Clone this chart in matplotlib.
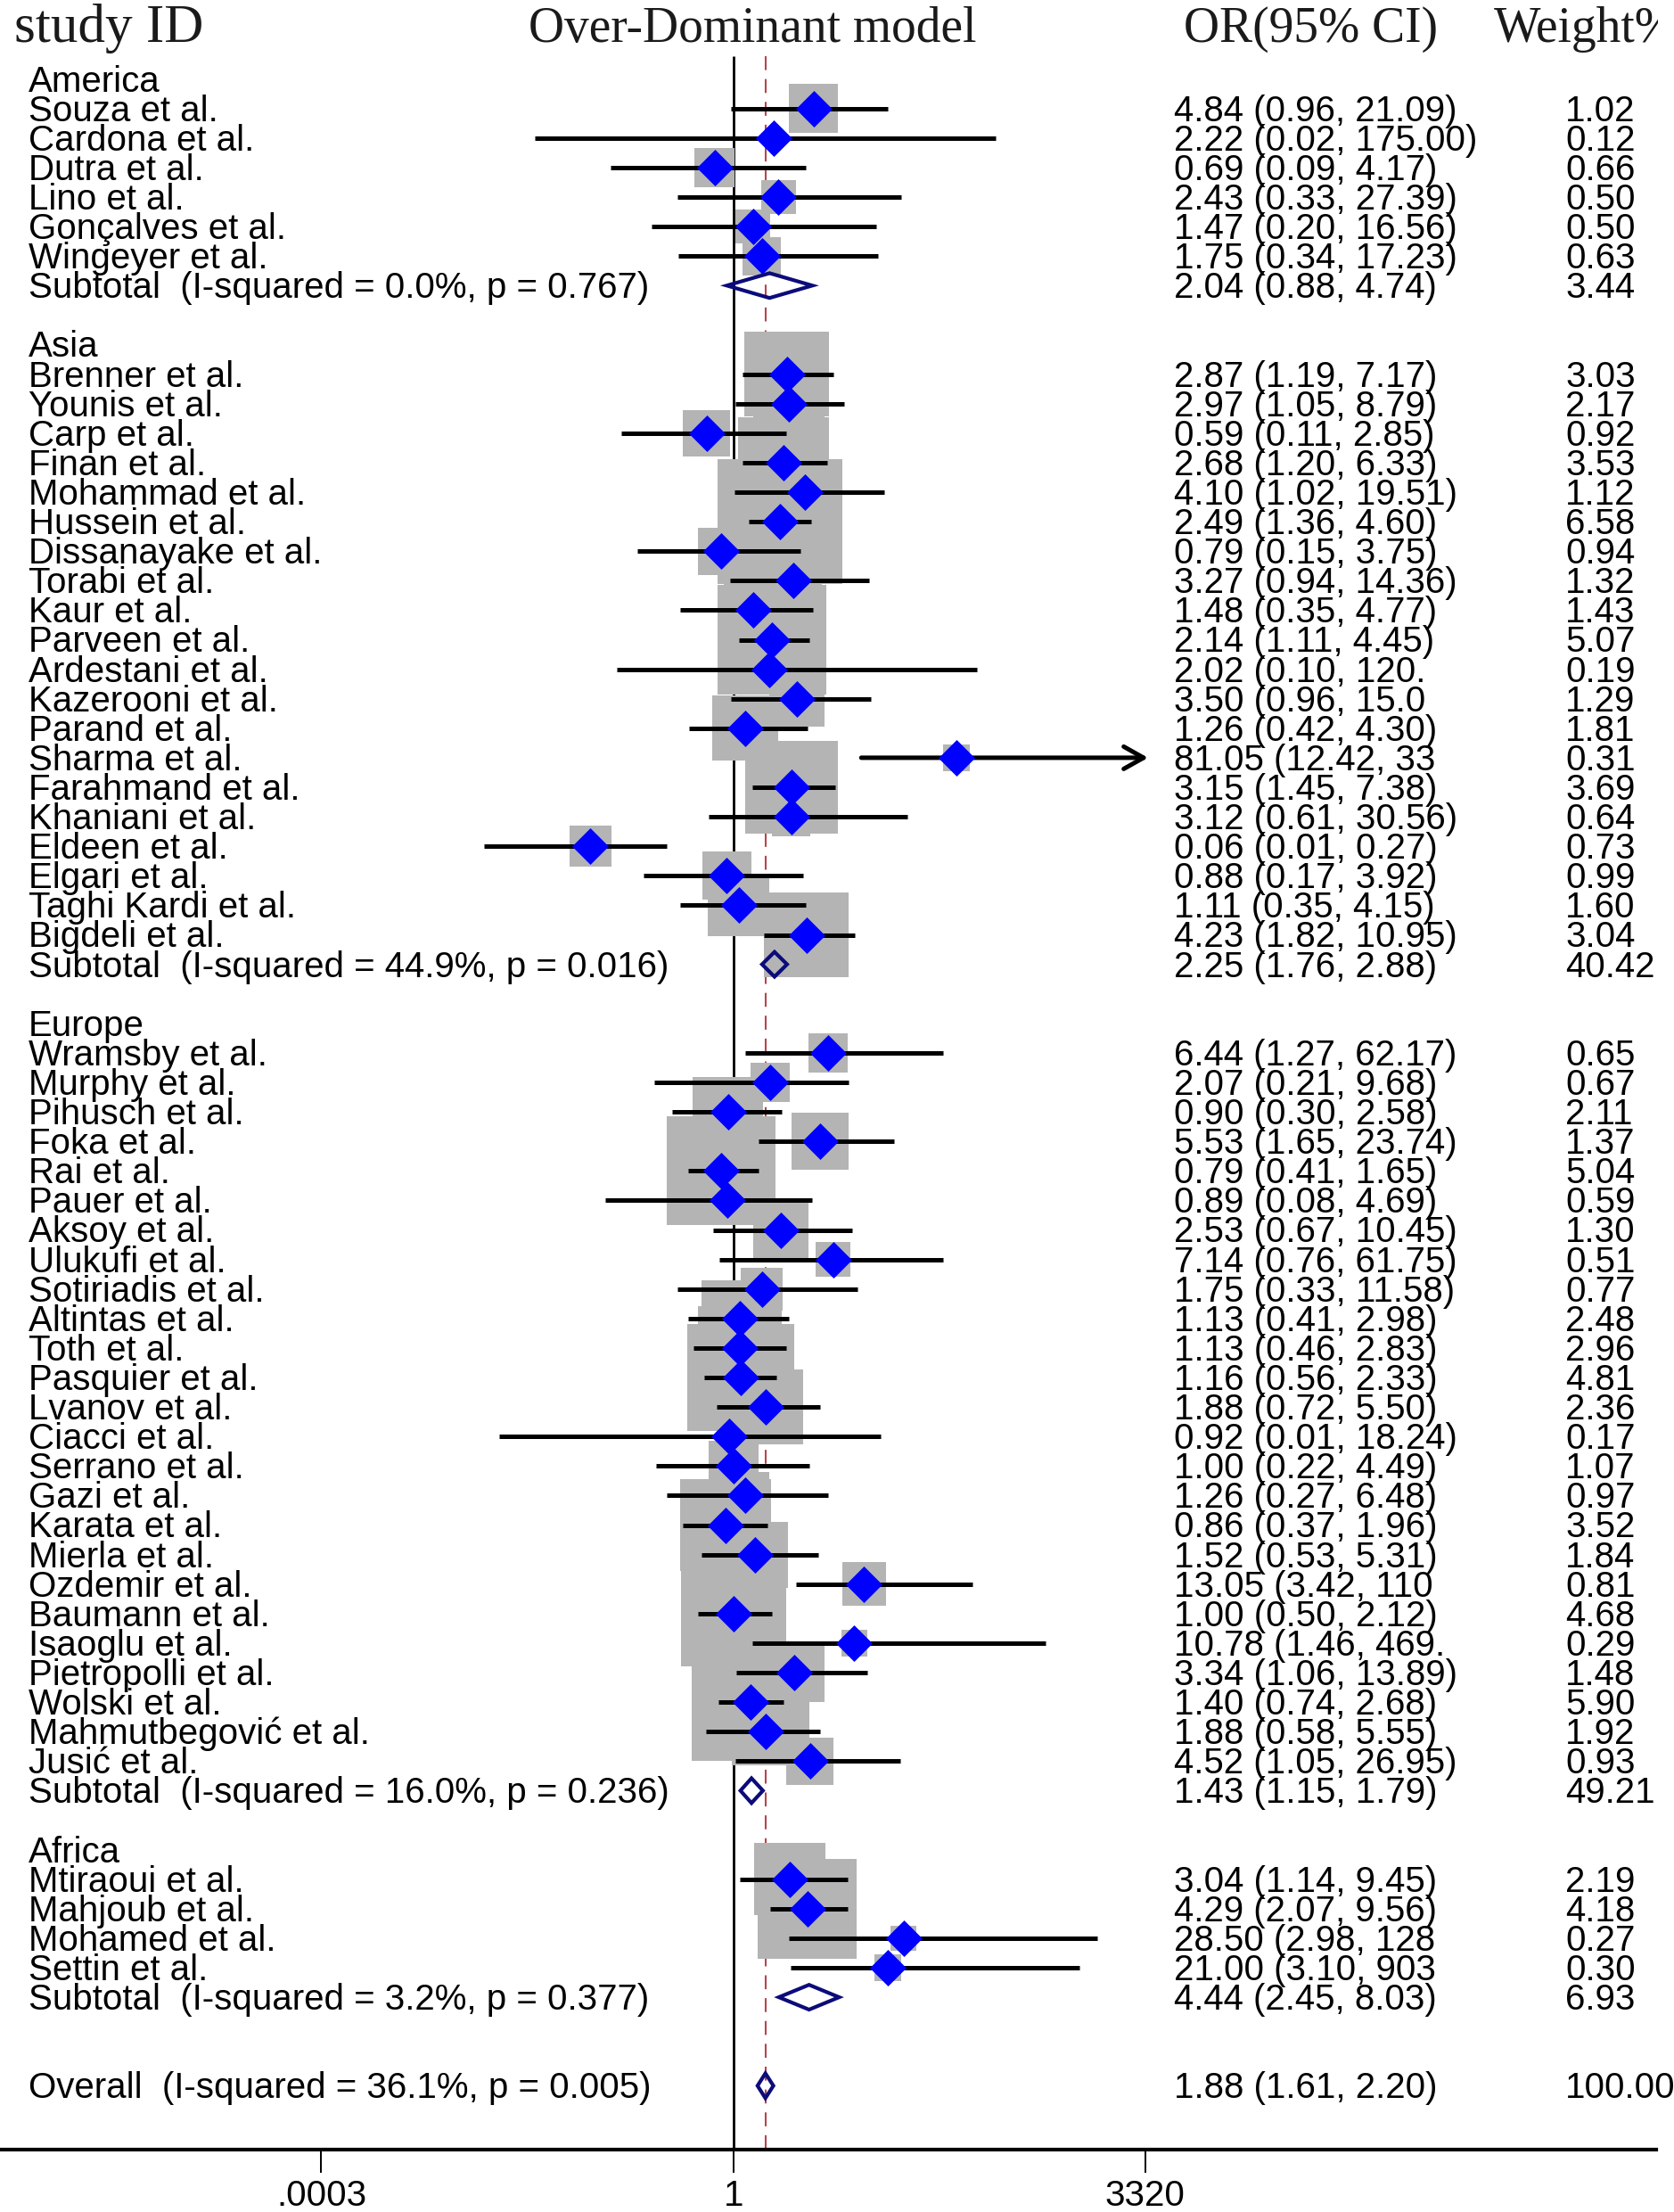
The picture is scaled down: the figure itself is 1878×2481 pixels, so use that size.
import numpy as np
import matplotlib
matplotlib.use("Agg")
import matplotlib.pyplot as plt
from matplotlib.path import Path
from matplotlib.ticker import NullLocator
from matplotlib.transforms import Bbox

# ---------------- data ----------------
group_names = ["America", "Asia", "Europe", "Africa"]

america_names = ["Souza et al.", "Cardona et al.", "Dutra et al.", "Lino et al.",
                 "Gonçalves et al.", "Wingeyer et al."]
america_or = [4.84, 2.22, 0.69, 2.43, 1.47, 1.75]
america_lo = [0.96, 0.02, 0.09, 0.33, 0.20, 0.34]
america_hi = [21.09, 175.00, 4.17, 27.39, 16.56, 17.23]
america_wt = [1.02, 0.12, 0.66, 0.50, 0.50, 0.63]

asia_names = ["Brenner et al.", "Younis et al.", "Carp et al.", "Finan et al.",
              "Mohammad et al.", "Hussein et al.", "Dissanayake et al.", "Torabi et al.",
              "Kaur et al.", "Parveen et al.", "Ardestani et al.", "Kazerooni et al.",
              "Parand et al.", "Sharma et al.", "Farahmand et al.", "Khaniani et al.",
              "Eldeen et al.", "Elgari et al.", "Taghi Kardi et al.", "Bigdeli et al."]
asia_or = [2.87, 2.97, 0.59, 2.68, 4.10, 2.49, 0.79, 3.27, 1.48, 2.14,
           2.02, 3.50, 1.26, 81.05, 3.15, 3.12, 0.06, 0.88, 1.11, 4.23]
asia_lo = [1.19, 1.05, 0.11, 1.20, 1.02, 1.36, 0.15, 0.94, 0.35, 1.11,
           0.10, 0.96, 0.42, 12.42, 1.45, 0.61, 0.0074, 0.17, 0.35, 1.82]
asia_hi = [7.17, 8.79, 2.85, 6.33, 19.51, 4.60, 3.75, 14.36, 4.77, 4.45,
           120.50, 15.04, 4.30, 3350.00, 7.38, 30.56, 0.27, 3.92, 4.15, 10.95]
asia_wt = [3.03, 2.17, 0.92, 3.53, 1.12, 6.58, 0.94, 1.32, 1.43, 5.07,
           0.19, 1.29, 1.81, 0.31, 3.69, 0.64, 0.73, 0.99, 1.60, 3.04]

europe_names = ["Wramsby et al.", "Murphy et al.", "Pihusch et al.", "Foka et al.",
                "Rai et al.", "Pauer et al.", "Aksoy et al.", "Ulukufi et al.",
                "Sotiriadis et al.", "Altintas et al.", "Toth et al.", "Pasquier et al.",
                "Lvanov et al.", "Ciacci et al.", "Serrano et al.", "Gazi et al.",
                "Karata et al.", "Mierla et al.", "Ozdemir et al.", "Baumann et al.",
                "Isaoglu et al.", "Pietropolli et al.", "Wolski et al.",
                "Mahmutbegović et al.", "Jusić et al."]
europe_or = [6.44, 2.07, 0.90, 5.53, 0.79, 0.89, 2.53, 7.14, 1.75, 1.13, 1.13, 1.16,
             1.88, 0.92, 1.00, 1.26, 0.86, 1.52, 13.05, 1.00, 10.78, 3.34, 1.40, 1.88, 4.52]
europe_lo = [1.27, 0.21, 0.30, 1.65, 0.41, 0.08, 0.67, 0.76, 0.33, 0.41, 0.46, 0.56,
             0.72, 0.01, 0.22, 0.27, 0.37, 0.53, 3.42, 0.50, 1.46, 1.06, 0.74, 0.58, 1.05]
europe_hi = [62.17, 9.68, 2.58, 23.74, 1.65, 4.69, 10.45, 61.75, 11.58, 2.98, 2.83, 2.33,
             5.50, 18.24, 4.49, 6.48, 1.96, 5.31, 110.80, 2.12, 469.20, 13.89, 2.68, 5.55, 26.95]
europe_wt = [0.65, 0.67, 2.11, 1.37, 5.04, 0.59, 1.30, 0.51, 0.77, 2.48, 2.96, 4.81,
             2.36, 0.17, 1.07, 0.97, 3.52, 1.84, 0.81, 4.68, 0.29, 1.48, 5.90, 1.92, 0.93]

africa_names = ["Mtiraoui et al.", "Mahjoub et al.", "Mohamed et al.", "Settin et al."]
africa_or = [3.04, 4.29, 28.50, 21.00]
africa_lo = [1.14, 2.07, 2.98, 3.10]
africa_hi = [9.45, 9.56, 1285.00, 903.40]
africa_wt = [2.19, 4.18, 0.27, 0.30]

# CI labels truncated in the original (number of characters shown)
ci_cut = {"Ardestani et al.": 16, "Kazerooni et al.": 16, "Sharma et al.": 16,
          "Ozdemir et al.": 16, "Isaoglu et al.": 17, "Mohamed et al.": 16,
          "Settin et al.": 16}

sub_or = [2.04, 2.25, 1.43, 4.44]
sub_lo = [0.88, 1.76, 1.15, 2.45]
sub_hi = [4.74, 2.88, 1.79, 8.03]
sub_wt = [3.44, 40.42, 49.21, 6.93]
sub_i2 = ["0.0", "44.9", "16.0", "3.2"]
sub_p = ["0.767", "0.016", "0.236", "0.377"]

overall_or, overall_lo, overall_hi, overall_wt = 1.88, 1.61, 2.20, 100.00
overall_i2, overall_p = "36.1", "0.005"

xtick_vals = [0.0003, 1, 3320]
xtick_labels = [".0003", "1", "3320"]

# ---------------- layout ----------------
FIG_W, FIG_H, DPI = 1878, 2481, 100
PX1, PPD = 822.7, 131.2          # pixel of OR=1, pixels per decade
ROW0, PITCH = 88.6, 33.1          # pixel of first row, row pitch
AX_BOTTOM = 2411

SANS = ["Liberation Sans", "DejaVu Sans"]
SERIF = ["Liberation Serif", "DejaVu Serif"]
FS = 29

fig = plt.figure(figsize=(FIG_W / DPI, FIG_H / DPI), dpi=DPI)
ax = fig.add_axes([0, (FIG_H - AX_BOTTOM) / FIG_H, 1, AX_BOTTOM / FIG_H])
ax.set_xscale("log")
ax.set_xlim(10 ** (-PX1 / PPD), 10 ** ((FIG_W - PX1) / PPD))
ymax = (AX_BOTTOM - ROW0) / PITCH
ax.set_ylim(ymax, -ROW0 / PITCH)

groups = [
    (america_names, america_or, america_lo, america_hi, america_wt),
    (asia_names, asia_or, asia_lo, asia_hi, asia_wt),
    (europe_names, europe_or, europe_lo, europe_hi, europe_wt),
    (africa_names, africa_or, africa_lo, africa_hi, africa_wt),
]

trans = ax.get_yaxis_transform()
BASE = 0.42  # baseline offset (rows) below row centre
LBL_X = 32 / FIG_W
CI_X = 1317 / FIG_W
WT_X = 1756 / FIG_W


def put_row(row, label, ci, wt):
    ax.text(LBL_X, row + BASE, label, transform=trans, fontsize=FS, family=SANS,
            ha="left", va="baseline")
    if ci is not None:
        ax.text(CI_X, row + BASE, ci, transform=trans, fontsize=FS, family=SANS,
                ha="left", va="baseline")
    if wt is not None:
        ax.text(WT_X, row + BASE, wt, transform=trans, fontsize=FS, family=SANS,
                ha="left", va="baseline")


XMAX_CI = xtick_vals[-1]
DIAM_H = 0.42
NAVY = "#0b0b7a"
CI_LW = 3.6

all_or, all_rows, all_wt = [], [], []
row = 0
for gi, (names, ors, los, his, wts) in enumerate(groups):
    put_row(row, group_names[gi], None, None)
    row += 1
    for n, o, lo, hi, w in zip(names, ors, los, his, wts):
        ci = f"{o:.2f} ({lo:.2f}, {hi:.2f})"
        if n in ci_cut:
            ci = ci[:ci_cut[n]]
        put_row(row, n, ci, f"{w:.2f}")
        if hi > XMAX_CI:
            ax.annotate("", xy=(XMAX_CI * 1.06, row), xytext=(lo, row),
                        arrowprops=dict(arrowstyle="->,head_length=0.8,head_width=0.45",
                                        lw=CI_LW, color="black", shrinkA=0, shrinkB=0,
                                        mutation_scale=20),
                        zorder=3)
        else:
            ax.hlines(row, lo, hi, color="black", lw=CI_LW, zorder=3)
        all_or.append(o)
        all_rows.append(row)
        all_wt.append(w)
        row += 1
    # subtotal
    ci = f"{sub_or[gi]:.2f} ({sub_lo[gi]:.2f}, {sub_hi[gi]:.2f})"
    put_row(row, f"Subtotal  (I-squared = {sub_i2[gi]}%, p = {sub_p[gi]})", ci,
            f"{sub_wt[gi]:.2f}")
    ax.fill([sub_lo[gi], sub_or[gi], sub_hi[gi], sub_or[gi]],
            [row, row - DIAM_H, row, row + DIAM_H],
            facecolor="none", edgecolor=NAVY, lw=3.0, zorder=5)
    row += 2

overall_row = row + 1
put_row(overall_row, f"Overall  (I-squared = {overall_i2}%, p = {overall_p})",
        f"{overall_or:.2f} ({overall_lo:.2f}, {overall_hi:.2f})", f"{overall_wt:.2f}")
ax.fill([overall_lo, overall_or, overall_hi, overall_or],
        [overall_row, overall_row - DIAM_H, overall_row, overall_row + DIAM_H],
        facecolor="none", edgecolor=NAVY, lw=3.0, zorder=5)

# boxes (area proportional to weight)
box_side_pt = 54.5 * 72 / DPI
ax.scatter(all_or, all_rows, s=(box_side_pt ** 2) * np.array(all_wt), marker="s",
           c="#b4b4b4", linewidths=0, zorder=2)

# point estimates
diamond = Path([(0, -0.5), (0.5, 0), (0, 0.5), (-0.5, 0), (0, -0.5)],
               [Path.MOVETO, Path.LINETO, Path.LINETO, Path.LINETO, Path.CLOSEPOLY])
ax.plot(all_or, all_rows, linestyle="none", marker=diamond, markersize=41 * 72 / DPI,
        color="#0000ff", markeredgewidth=0, zorder=4)

# null line and overall line
top_row = (63 - ROW0) / PITCH
ax.vlines(1, top_row, ymax, color="black", lw=2.0, zorder=1)
ax.vlines(overall_or, top_row, ymax, color="#b4464f", lw=1.5,
          linestyles=[(0, (7.5, 4.8))], zorder=1)

# headers
HDR_Y = (47 - ROW0) / PITCH
ax.text(16 / FIG_W, HDR_Y, "study ID", transform=trans, fontsize=44, family=SERIF,
        ha="left", va="baseline", color="#1a1a1a")
ax.text(593 / FIG_W, HDR_Y, "Over-Dominant model", transform=trans, fontsize=40,
        family=SERIF, ha="left", va="baseline", color="#1a1a1a")
ax.text(1328 / FIG_W, HDR_Y, "OR(95% CI)", transform=trans, fontsize=40, family=SERIF,
        ha="left", va="baseline", color="#1a1a1a")
wt_hdr = ax.text(1676 / FIG_W, HDR_Y, "Weight%", transform=trans, fontsize=40,
                 family=SERIF, ha="left", va="baseline", color="#1a1a1a")
wt_hdr.set_clip_box(Bbox.from_extents(0, 0, 1860, FIG_H))
wt_hdr.set_clip_on(True)

# axis
for s in ["top", "left", "right"]:
    ax.spines[s].set_visible(False)
ax.spines["bottom"].set_linewidth(3.0)
ax.spines["bottom"].set_bounds(10 ** (-PX1 / PPD), 10 ** ((1858 - PX1) / PPD))
ax.set_xticks(xtick_vals)
ax.set_xticklabels(xtick_labels, family=SANS, fontsize=FS)
ax.xaxis.set_minor_locator(NullLocator())
ax.tick_params(axis="x", length=19, width=1.4, direction="out", pad=5)
ax.set_yticks([])
ax.patch.set_visible(False)

fig.savefig("out.png", dpi=DPI)
